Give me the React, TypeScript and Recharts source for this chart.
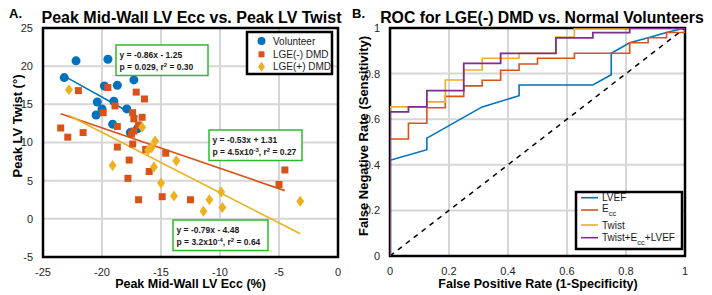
import {
  ComposedChart,
  Scatter,
  Line,
  XAxis,
  YAxis,
  CartesianGrid,
  ReferenceLine,
  ReferenceArea,
} from 'recharts'

const FONT = '"Liberation Sans", Arial, Helvetica, sans-serif'
const BLUE = '#0072BD'
const ORANGE = '#D95319'
const YELLOW = '#EDB120'
const PURPLE = '#7E2F8E'
const GREEN = '#2cba2c'
const GRID = '#d6d6d6'
const TICK = '#262626'

// ---- panel A: peak mid-wall Ecc (%) vs peak LV twist (deg) ----
const eccTicks = [-25, -20, -15, -10, -5, 0]
const twistTicks = [-5, 0, 5, 10, 15, 20, 25]

const volunteerEcc = [-23.2, -22.2, -19.5, -19.8, -18.7, -17.3, -20.4, -19.0, -20.0, -17.9, -20.5, -19.1, -17.6, -17.0]
const volunteerTwist = [18.5, 20.7, 20.9, 17.4, 17.5, 18.2, 15.3, 15.4, 14.4, 14.4, 13.6, 12.4, 11.3, 11.8]

const lgeNegEcc = [-22.0, -19.5, -17.1, -16.4, -18.9, -19.9, -17.4, -16.6, -17.3, -18.7, -16.9, -23.5, -21.6, -17.5, -17.3, -22.9, -18.7, -17.4, -16.3, -14.6, -17.7, -16.0, -17.8, -16.9, -14.9, -12.5, -5.0, -4.5]
const lgeNegTwist = [16.8, 17.2, 16.6, 15.7, 14.8, 13.9, 13.9, 13.3, 13.1, 12.1, 12.3, 11.9, 11.3, 11.1, 11.5, 10.7, 9.4, 9.8, 9.1, 8.6, 7.7, 6.2, 5.3, 2.5, 2.9, 2.5, 4.5, 6.4]

const lgePosEcc = [-22.8, -16.6, -15.5, -16.1, -15.8, -19.1, -15.6, -13.7, -15.0, -13.9, -11.4, -10.9, -9.9, -9.8, -3.2]
const lgePosTwist = [16.9, 12.0, 10.2, 9.0, 9.3, 7.0, 6.8, 7.6, 4.7, 3.0, 1.0, 2.5, 3.5, 1.5, 2.3]

// regression fits: slope, intercept and x-range of each group
const fitSlope = [-0.86, -0.53, -0.79]
const fitIntercept = [-1.25, 1.31, -4.48]
const fitFrom = [-23.2, -23.5, -22.8]
const fitTo = [-17.0, -4.5, -3.2]
const fitColor = [BLUE, ORANGE, YELLOW]

// ---- panel B: ROC, LGE(-) DMD vs normal volunteers ----
const rateTicks = [0, 0.2, 0.4, 0.6, 0.8, 1]
const fprStep = 1 / 16

// sensitivity after each false-positive step
const eccRoc = [0.513, 0.582, 0.65, 0.7, 0.746, 0.771, 0.815, 0.842, 0.867, 0.867, 0.889, 0.889, 0.889, 0.935, 0.957, 0.98]
const twistRoc = [0.654, 0.654, 0.676, 0.772, 0.816, 0.867, 0.867, 0.889, 0.889, 0.96, 1, 1, 1, 1, 1, 1]
const comboRoc = [0.632, 0.654, 0.725, 0.725, 0.845, 0.845, 0.889, 0.889, 0.889, 0.957, 0.957, 0.98, 0.98, 1, 1, 1]

// LVEF curve is interpolated
const lvefFpr = [0, 0, 0.125, 0.125, 0.3125, 0.4375, 0.4375, 0.6875, 0.75, 0.75, 0.8125, 0.875, 0.9375, 1]
const lvefTpr = [0, 0.42, 0.466, 0.517, 0.654, 0.703, 0.75, 0.75, 0.795, 0.889, 0.935, 0.957, 0.98, 1]

const pairs = (xs: number[], ys: number[]) => xs.map((x, i) => ({ x, y: ys[i] }))

const steps = (levels: number[]) => {
  const pts = [{ x: 0, y: 0 }]
  levels.forEach((v, i) => {
    pts.push({ x: i * fprStep, y: v })
    pts.push({ x: (i + 1) * fprStep, y: v })
  })
  pts.push({ x: 1, y: 1 })
  return pts
}

const Dot = (p: any) => <circle cx={p.cx} cy={p.cy} r={4.5} fill={BLUE} />
const Square = (p: any) => (
  <rect x={p.cx - 3.5} y={p.cy - 3.5} width={7} height={7} fill={ORANGE} />
)
const Diamond = (p: any) => (
  <polygon
    points={`${p.cx},${p.cy - 5.5} ${p.cx + 4},${p.cy} ${p.cx},${p.cy + 5.5} ${p.cx - 4},${p.cy}`}
    fill={YELLOW}
  />
)

const tickStyle = { fill: TICK, fontSize: 11, fontFamily: FONT }

function EccTwistChart() {
  return (
    <ComposedChart width={360} height={295} margin={{ top: 28, right: 22, bottom: 8, left: 13 }}>
      <CartesianGrid stroke={GRID} strokeWidth={2} />
      <XAxis
        type="number"
        dataKey="x"
        domain={[-25, 0]}
        ticks={eccTicks}
        interval={0}
        height={30}
        axisLine={false}
        tickLine={false}
        tickMargin={5}
        tick={tickStyle}
        allowDataOverflow
      />
      <YAxis
        type="number"
        dataKey="y"
        domain={[-5, 25]}
        ticks={twistTicks}
        interval={0}
        width={30}
        axisLine={false}
        tickLine={false}
        tickMargin={4}
        tick={tickStyle}
        allowDataOverflow
      />
      <Scatter data={pairs(volunteerEcc, volunteerTwist)} shape={Dot} isAnimationActive={false} />
      <Scatter data={pairs(lgeNegEcc, lgeNegTwist)} shape={Square} isAnimationActive={false} />
      <Scatter data={pairs(lgePosEcc, lgePosTwist)} shape={Diamond} isAnimationActive={false} />
      {fitSlope.map((m, i) => (
        <ReferenceLine
          key={i}
          segment={[
            { x: fitFrom[i], y: m * fitFrom[i] + fitIntercept[i] },
            { x: fitTo[i], y: m * fitTo[i] + fitIntercept[i] },
          ]}
          stroke={fitColor[i]}
          strokeWidth={1.6}
          ifOverflow="visible"
        />
      ))}
    </ComposedChart>
  )
}

function RocChart() {
  return (
    <ComposedChart width={357} height={295} margin={{ top: 28, right: 27, bottom: 9, left: 5 }}>
      <CartesianGrid stroke={GRID} strokeWidth={2} />
      <XAxis
        type="number"
        dataKey="x"
        domain={[0, 1]}
        ticks={rateTicks}
        interval={0}
        height={30}
        axisLine={false}
        tickLine={false}
        tickMargin={5}
        tick={tickStyle}
        allowDataOverflow
      />
      <YAxis
        type="number"
        dataKey="y"
        domain={[0, 1]}
        ticks={rateTicks}
        interval={0}
        width={30}
        axisLine={false}
        tickLine={false}
        tickMargin={4}
        tick={tickStyle}
        allowDataOverflow
      />
      <ReferenceLine
        segment={[{ x: 0, y: 0 }, { x: 1, y: 1 }]}
        stroke="#000"
        strokeWidth={1.5}
        strokeDasharray="5 5"
      />
      <ReferenceArea
        x1={0}
        x2={1}
        y1={0}
        y2={1}
        fill="none"
        stroke="#000"
        strokeWidth={2.5}
        ifOverflow="visible"
      />
      <Line data={pairs(lvefFpr, lvefTpr)} dataKey="y" stroke={BLUE} strokeWidth={1.6} dot={false} isAnimationActive={false} />
      <Line data={steps(eccRoc)} dataKey="y" stroke={ORANGE} strokeWidth={1.6} dot={false} isAnimationActive={false} />
      <Line data={steps(twistRoc)} dataKey="y" stroke={YELLOW} strokeWidth={1.6} dot={false} isAnimationActive={false} />
      <Line data={steps(comboRoc)} dataKey="y" stroke={PURPLE} strokeWidth={1.8} dot={false} isAnimationActive={false} />
    </ComposedChart>
  )
}

function FitBox({ x, y, w, eq, p, exp, r2 }: any) {
  return (
    <g fontFamily={FONT} fontWeight="bold" fontSize={8.5} fill="#1a1a1a">
      <rect x={x} y={y} width={w} height={30.5} fill="#fff" stroke={GREEN} strokeWidth={1.5} />
      <text x={x + 3.5} y={y + 13}>{eq}</text>
      <text x={x + 3.5} y={y + 24.5}>
        {'p = ' + p}
        {exp && <tspan dy={-3} fontSize={6}>{exp}</tspan>}
        <tspan dy={exp ? 3 : 0}>{', r'}</tspan>
        <tspan dy={-3} fontSize={6}>2</tspan>
        <tspan dy={3}>{' = ' + r2}</tspan>
      </text>
    </g>
  )
}

function Overlay() {
  const bold = { fontFamily: FONT, fontWeight: 'bold' as const, fill: '#000' }
  const txt = { fontFamily: FONT, fill: '#1a1a1a', fontSize: 10 }
  return (
    <svg width={712} height={295} style={{ position: 'absolute', left: 0, top: 0, pointerEvents: 'none' }}>
      {/* axes box of panel A */}
      <rect x={43} y={28} width={295} height={229} fill="none" stroke="#000" strokeWidth={2.5} />

      {/* titles */}
      <text x={9} y={18} fontSize={13} {...bold}>A.</text>
      <text x={191.5} y={22.5} fontSize={16} textAnchor="middle" {...bold}>
        Peak Mid-Wall LV Ecc vs. Peak LV Twist
      </text>
      <text x={352} y={18} fontSize={13} {...bold}>B.</text>
      <text x={542} y={22.5} fontSize={15.8} textAnchor="middle" {...bold}>
        ROC for LGE(-) DMD vs. Normal Volunteers
      </text>

      {/* axis labels */}
      <text x={190.5} y={287.5} fontSize={12.5} textAnchor="middle" {...bold}>Peak Mid-Wall LV Ecc (%)</text>
      <text transform="translate(22,126) rotate(-90)" fontSize={13} textAnchor="middle" {...bold}>
        Peak LV Twist (°)
      </text>
      <text x={538} y={287.5} fontSize={12.5} textAnchor="middle" {...bold}>False Positive Rate (1-Specificity)</text>
      <text transform="translate(368,136) rotate(-90)" fontSize={13} textAnchor="middle" {...bold}>
        False Negative Rate (Sensitivity)
      </text>

      {/* regression annotations */}
      <FitBox x={116} y={45} w={92} eq="y = -0.86x - 1.25" p="0.029" r2="0.30" />
      <FitBox x={209} y={130} w={93} eq="y = -0.53x + 1.31" p="4.5x10" exp="-3" r2="0.27" />
      <FitBox x={173} y={220} w={95} eq="y = -0.79x - 4.48" p="3.2x10" exp="-4" r2="0.64" />

      {/* legend A */}
      <rect x={247} y={32} width={85} height={42} fill="#fff" stroke="#000" strokeWidth={2.5} />
      <circle cx={261.5} cy={41} r={4} fill={BLUE} />
      <rect x={258.5} y={51.3} width={6} height={6} fill={ORANGE} />
      <polygon points="261.5,61.7 265,66.7 261.5,71.7 258,66.7" fill={YELLOW} />
      <text x={273} y={44.5} {...txt}>Volunteer</text>
      <text x={273} y={57.8} {...txt}>LGE(-) DMD</text>
      <text x={273} y={70.2} {...txt}>LGE(+) DMD</text>

      {/* legend B */}
      <rect x={576} y={192} width={106} height={57} fill="#fff" stroke="#000" strokeWidth={2.5} />
      <line x1={581} x2={598} y1={197.7} y2={197.7} stroke={BLUE} strokeWidth={1.6} />
      <line x1={581} x2={598} y1={210} y2={210} stroke={ORANGE} strokeWidth={1.6} />
      <line x1={581} x2={598} y1={225} y2={225} stroke={YELLOW} strokeWidth={1.6} />
      <line x1={581} x2={598} y1={237.7} y2={237.7} stroke={PURPLE} strokeWidth={1.6} />
      <text x={602} y={201.2} {...txt}>LVEF</text>
      <text x={602} y={212} {...txt}>
        E<tspan dy={4} fontSize={7.5}>cc</tspan>
      </text>
      <text x={602} y={228.5} {...txt}>Twist</text>
      <text x={602} y={240.5} {...txt}>
        Twist+E<tspan dy={4} fontSize={7.5}>cc</tspan>
        <tspan dy={-4}>+LVEF</tspan>
      </text>
    </svg>
  )
}

export default function App() {
  return (
    <div style={{ position: 'absolute', left: 0, top: 0, width: 712, height: 295, background: '#fff' }}>
      <div style={{ position: 'absolute', left: 0, top: 0 }}>
        <EccTwistChart />
      </div>
      <div style={{ position: 'absolute', left: 355, top: 0 }}>
        <RocChart />
      </div>
      <Overlay />
    </div>
  )
}
